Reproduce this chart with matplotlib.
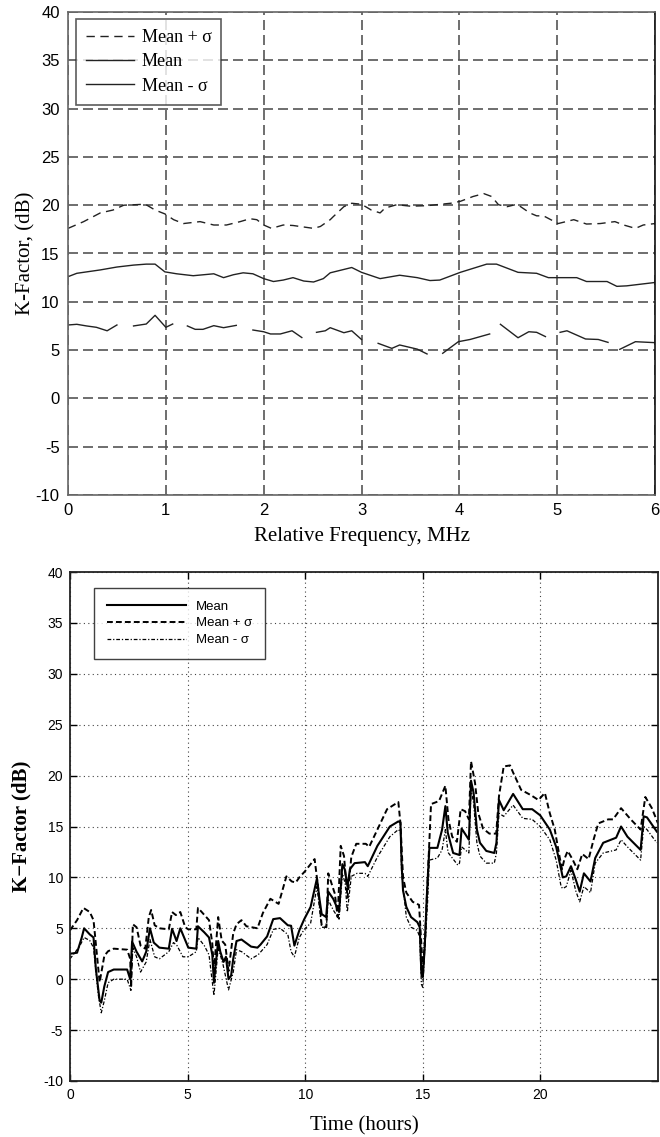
import numpy as np
import matplotlib
matplotlib.use("Agg")
import matplotlib.pyplot as plt

plt.rcParams["axes.unicode_minus"] = False

# ---- top panel: K-factor vs relative frequency ----
f_hi = [0, 0.16, 0.33, 0.46, 0.57, 0.79, 0.89, 0.99, 1.08, 1.18, 1.35, 1.49, 1.62, 1.76, 1.86,
        1.93, 2.0, 2.08, 2.2, 2.3, 2.51, 2.58, 2.68, 2.71, 2.82, 2.9, 3.0, 3.1, 3.19, 3.24, 3.36,
        3.5, 3.67, 3.91, 4.01, 4.14, 4.25, 4.33, 4.4, 4.49, 4.59, 4.72, 4.79, 4.86, 5.01, 5.17,
        5.3, 5.44, 5.59, 5.68, 5.8, 5.88, 6.0]
k_hi = [17.6, 18.3, 19.2, 19.5, 20.0, 20.1, 19.5, 19.1, 18.5, 18.1, 18.3, 17.95, 17.95, 18.3, 18.6,
        18.5, 17.95, 17.6, 17.95, 17.9, 17.6, 17.8, 18.5, 18.8, 19.85, 20.2, 20.1, 19.5, 19.2, 19.7, 20.05,
        19.9, 19.95, 20.2, 20.4, 20.9, 21.2, 20.9, 20.05, 19.85, 20.1, 19.2, 18.9, 18.9, 18.1, 18.5,
        18.05, 18.1, 18.3, 17.95, 17.6, 17.95, 18.1]

f_mean = [0, 0.09, 0.33, 0.5, 0.67, 0.8, 0.89, 0.99, 1.11, 1.28, 1.49, 1.59, 1.69, 1.79, 1.89, 2.0,
          2.1, 2.2, 2.3, 2.41, 2.51, 2.61, 2.68, 2.9, 3.0, 3.19, 3.39, 3.57, 3.7, 3.8, 4.01, 4.28,
          4.38, 4.6, 4.79, 4.91, 5.2, 5.3, 5.51, 5.61, 5.71, 6.0]
k_mean = [12.6, 12.95, 13.3, 13.6, 13.8, 13.9, 13.9, 13.1, 12.9, 12.7, 12.9, 12.5, 12.8, 13.0, 12.9, 12.4,
          12.1, 12.25, 12.5, 12.15, 12.05, 12.4, 13.0, 13.55, 13.05, 12.4, 12.75, 12.5, 12.2, 12.25, 13.05, 13.9,
          13.9, 13.05, 12.95, 12.5, 12.5, 12.1, 12.1, 11.6, 11.65, 12.0]

# gaps in the lower curve are kept as NaN
f_lo = [0, 0.09, 0.19, 0.29, 0.4, 0.5, np.nan,
        0.67, 0.8, 0.89, 1.0, 1.07, np.nan,
        1.22, 1.3, 1.38, 1.49, 1.59, 1.72, np.nan,
        1.89, 2.0, 2.07, 2.17, 2.29, 2.39, np.nan,
        2.54, 2.63, 2.68, 2.82, 2.9, 3.0, np.nan,
        3.17, 3.31, 3.39, 3.57, 3.67, np.nan,
        3.83, 3.99, 4.11, 4.31, np.nan,
        4.42, 4.6, 4.71, 4.79, 4.88, np.nan,
        5.03, 5.1, 5.29, 5.42, 5.52, np.nan,
        5.64, 5.8, 6.0]
k_lo = [7.6, 7.67, 7.5, 7.36, 7.0, 7.6, np.nan,
        7.5, 7.7, 8.6, 7.36, 7.7, np.nan,
        7.5, 7.15, 7.15, 7.53, 7.32, 7.56, np.nan,
        7.08, 6.9, 6.67, 6.67, 7.0, 6.3, np.nan,
        6.84, 7.0, 7.32, 6.8, 7.0, 6.1, np.nan,
        5.7, 5.18, 5.53, 5.1, 4.6, np.nan,
        4.67, 5.87, 6.1, 6.67, np.nan,
        7.67, 6.28, 6.9, 6.84, 6.4, np.nan,
        6.84, 7.0, 6.15, 6.1, 5.8, np.nan,
        5.08, 5.87, 5.77]

# ---- bottom panel: K-factor vs time ----
t_mean = [0.0, 0.3, 0.5, 0.6, 0.84, 1.0, 1.1, 1.26, 1.33, 1.46, 1.62, 1.86, 2.43, 2.56, 2.64, 2.83,
          3.07, 3.24, 3.4, 3.56, 3.8, 4.2, 4.34, 4.53, 4.69, 5.03, 5.37, 5.44, 5.71, 5.91, 6.05, 6.12,
          6.19, 6.3, 6.39, 6.53, 6.63, 6.74, 6.85, 6.94, 7.08, 7.29, 7.7, 7.97, 8.1, 8.38, 8.64, 8.93,
          9.26, 9.4, 9.54, 9.75, 9.96, 10.23, 10.5, 10.6, 10.7, 10.89, 10.98, 11.19, 11.44, 11.58,
          11.68, 11.8, 11.9, 12.1, 12.54, 12.66, 13.07, 13.6, 13.96, 14.05, 14.1, 14.16, 14.3, 14.5,
          14.77, 14.87, 14.94, 15.0, 15.08, 15.17, 15.28, 15.62, 15.82, 15.96, 16.06, 16.29, 16.56,
          16.65, 16.96, 17.05, 17.16, 17.3, 17.43, 17.7, 18.04, 18.13, 18.24, 18.44, 18.84, 19.25,
          19.65, 19.99, 20.4, 20.67, 20.88, 20.95, 21.1, 21.3, 21.5, 21.67, 21.85, 22.13, 22.33,
          22.67, 23.22, 23.43, 23.7, 24.26, 24.39, 24.53, 24.95]
kt_mean = [2.5, 2.6, 4.1, 5.0, 4.4, 4.1, 1.0, -2.1, -2.3, -0.7, 0.7, 0.95, 0.95, 0.0, 3.7, 2.7,
           1.75, 2.7, 5.0, 3.6, 3.1, 3.0, 4.95, 3.75, 5.0, 3.1, 3.0, 5.2, 4.6, 4.1, 2.4, -0.35,
           1.35, 3.75, 2.7, 1.7, 2.2, 0.0, 0.35, 2.0, 3.75, 3.9, 3.2, 3.1, 3.4, 4.2, 5.9, 6.0,
           5.3, 5.25, 3.3, 4.8, 5.9, 7.1, 9.9, 8.0, 6.4, 6.1, 8.6, 7.9, 6.6, 11.3,
           10.8, 9.1, 10.8, 11.4, 11.5, 11.1, 13.1, 15.0, 15.5, 15.4, 11.3, 8.7, 7.1, 6.1,
           5.6, 5.1, 0.5, 0.2, 3.1, 8.1, 12.9, 12.9, 14.7, 17.0, 14.4, 12.4, 12.2,
           14.8, 13.7, 19.5, 18.3, 14.7, 13.4, 12.6, 12.4, 13.4, 17.6, 16.6, 18.2, 16.7,
           16.7, 16.1, 14.7, 13.0, 10.8, 10.0, 10.1, 11.1, 9.8, 8.6, 10.4, 9.6, 11.9,
           13.4, 13.9, 15.0, 14.0, 12.7, 16.0, 15.9, 14.5]

t_hi = [0.0, 0.3, 0.57, 0.84, 1.0, 1.26, 1.46, 1.62, 1.86, 2.43, 2.56, 2.6, 2.67, 2.83, 3.0, 3.2,
        3.35, 3.45, 3.6, 3.8, 4.2, 4.34, 4.5, 4.69, 4.9, 5.03, 5.37, 5.44, 5.6, 5.91, 6.05, 6.12,
        6.3, 6.45, 6.6, 6.74, 6.94, 7.08, 7.29, 7.5, 7.97, 8.2, 8.52, 8.87, 9.2, 9.43, 9.6, 9.75,
        9.99, 10.4, 10.55, 10.7, 10.9, 10.98, 11.26, 11.38, 11.51, 11.65, 11.8, 11.96, 12.17,
        12.58, 12.72, 13.07, 13.48, 13.82, 13.96, 14.05, 14.16, 14.3, 14.57, 14.84, 14.95, 15.0,
        15.1, 15.21, 15.35, 15.69, 15.96, 16.09, 16.25, 16.45, 16.61, 16.8, 16.96, 17.05, 17.22,
        17.36, 17.56, 17.83, 18.12, 18.24, 18.44, 18.71, 18.84, 19.18, 19.58, 19.92, 20.19, 20.4,
        20.61, 20.81, 20.92, 21.02, 21.16, 21.36, 21.57, 21.78, 22.05, 22.26, 22.46, 22.88, 23.09,
        23.43, 23.84, 24.26, 24.46, 24.74, 25.0]
kt_hi = [4.8, 5.8, 7.0, 6.6, 5.8, -0.3, 2.3, 2.75, 3.0, 2.9, 2.0, -0.8, 5.4, 5.1, 3.3, 3.0,
         6.1, 6.8, 5.3, 5.0, 4.9, 6.6, 6.3, 6.6, 5.1, 4.9, 4.9, 7.0, 6.6, 5.8, 3.5, 0.8,
         6.1, 3.8, 3.4, 0.8, 4.5, 5.4, 5.8, 5.2, 5.0, 6.5, 7.9, 7.4, 10.1, 9.6, 9.5, 10.0,
         10.6, 11.8, 9.0, 5.3, 5.1, 10.4, 8.4, 6.1, 13.1, 12.1, 8.0, 12.0, 13.3,
         13.3, 13.0, 14.7, 16.7, 17.2, 17.4, 15.3, 10.0, 8.5, 7.6, 7.3, 3.0, 1.0,
         4.0, 10.0, 17.2, 17.5, 19.0, 15.7, 14.0, 13.5, 16.7, 16.5, 15.7, 21.4, 19.3,
         16.3, 14.8, 14.3, 14.3, 18.0, 20.9, 21.0, 20.3, 18.6, 18.1, 17.6, 18.3, 16.3,
         14.7, 12.1, 10.8, 11.8, 12.6, 11.8, 10.8, 12.3, 11.8, 13.7, 15.3, 15.7, 15.7,
         16.8, 15.7, 14.7, 17.9, 16.8, 15.3]

t_lo = [0.0, 0.4, 0.6, 0.84, 1.0, 1.2, 1.33, 1.46, 1.62, 1.86, 2.43, 2.59, 2.67, 2.83, 3.0, 3.24,
        3.4, 3.6, 3.8, 4.2, 4.4, 4.55, 4.8, 5.03, 5.37, 5.44, 5.71, 5.91, 6.12, 6.3, 6.5, 6.74,
        6.94, 7.08, 7.3, 7.7, 8.0, 8.38, 8.65, 8.93, 9.26, 9.4, 9.54, 9.75, 9.96, 10.23, 10.5,
        10.7, 10.9, 10.98, 11.19, 11.44, 11.58, 11.7, 11.79, 11.96, 12.2, 12.54, 12.66, 13.07,
        13.6, 13.96, 14.05, 14.1, 14.3, 14.5, 14.77, 14.87, 14.94, 15.0, 15.08, 15.2, 15.28,
        15.62, 15.82, 15.96, 16.06, 16.09, 16.49, 16.56, 16.65, 16.96, 17.05, 17.16, 17.3, 17.43,
        17.7, 18.04, 18.13, 18.24, 18.44, 18.84, 19.25, 19.65, 19.99, 20.4, 20.67, 20.88, 20.95,
        21.1, 21.3, 21.5, 21.67, 21.85, 22.13, 22.33, 22.67, 23.22, 23.43, 23.7, 24.26, 24.39,
        24.53, 24.95]
kt_lo = [2.0, 3.2, 4.1, 3.8, 3.1, -1.5, -3.3, -2.1, -0.35, 0.0, 0.0, -1.1, 3.1, 2.2, 0.7, 1.7,
         3.9, 2.2, 2.0, 2.7, 3.6, 3.3, 2.2, 2.2, 2.7, 4.1, 3.3, 2.4, -1.6, 3.1, 1.5, -1.05,
         0.7, 2.9, 2.7, 2.0, 2.4, 3.4, 4.9, 5.0, 4.4, 2.7, 2.2, 4.1, 4.9, 5.5, 9.1,
         5.1, 5.1, 7.8, 6.8, 5.9, 10.4, 9.4, 6.6, 10.1, 10.4, 10.4, 10.1, 12.0,
         14.0, 14.7, 14.5, 10.4, 6.1, 5.1, 4.8, 4.1, -0.5, -0.8, 2.8, 7.4, 11.7,
         11.9, 12.7, 14.7, 12.7, 12.4, 11.2, 11.4, 13.0, 12.4, 18.6, 17.3, 13.4, 12.1,
         11.4, 11.4, 12.4, 16.3, 16.0, 17.1, 15.8, 15.7, 15.0, 13.7, 11.7, 9.1, 8.9,
         9.1, 10.7, 8.7, 7.6, 9.1, 8.5, 11.4, 12.4, 12.7, 13.7, 13.0, 11.7, 15.0,
         14.7, 13.4]

serif = "Liberation Serif"
sans = "Liberation Sans"

fig = plt.figure(figsize=(6.6, 11.37), dpi=100)

# top panel
ax1 = fig.add_axes([68 / 660, 1 - 495 / 1137, 587 / 660, 483 / 1137])
ax1.plot(f_hi, k_hi, color="#222222", lw=1.0, dashes=(6, 4), label="Mean + σ")
ax1.plot(f_mean, k_mean, color="#222222", lw=1.0, label="Mean")
ax1.plot(f_lo, k_lo, color="#222222", lw=1.0, label="Mean - σ")
ax1.set_xlim(0, 6)
ax1.set_ylim(-10, 40)
ax1.set_xticks(range(0, 7))
ax1.set_yticks(range(-10, 41, 5))
ax1.grid(True, color="#555555", lw=1.2, dashes=(6, 3))
ax1.tick_params(direction="in", length=0, pad=6, labelsize=12)
for lab in ax1.get_xticklabels() + ax1.get_yticklabels():
    lab.set_family(sans)
for s in ax1.spines.values():
    s.set_color("#666666")
    s.set_linewidth(1.2)
ax1.spines["right"].set_color("#111111")
ax1.set_xlabel("Relative Frequency, MHz", family=serif, fontsize=15, labelpad=6)
ax1.set_ylabel("K-Factor, (dB)", family=serif, fontsize=15, labelpad=0)
leg1 = ax1.legend(loc="upper left", bbox_to_anchor=(0.013, 0.985), prop={"family": serif, "size": 13},
                  frameon=True, fancybox=False, handlelength=2.7, handletextpad=0.4,
                  borderpad=0.55, labelspacing=0.4, borderaxespad=0)
leg1.get_frame().set_edgecolor("#333333")
leg1.get_frame().set_linewidth(1.2)

# bottom panel
ax2 = fig.add_axes([70 / 660, 1 - 1081 / 1137, 588 / 660, 509 / 1137])
ax2.plot(t_mean, kt_mean, color="black", lw=1.5, label="Mean")
ax2.plot(t_hi, kt_hi, color="black", lw=1.4, dashes=(3, 1.6), label="Mean + σ")
ax2.plot(t_lo, kt_lo, color="black", lw=0.9, dashes=(3, 1.5, 1, 1.5), label="Mean - σ")
ax2.set_xlim(0, 25)
ax2.set_ylim(-10, 40)
ax2.set_xticks([0, 5, 10, 15, 20])
ax2.set_yticks(range(-10, 41, 5))
ax2.grid(True, color="#444444", lw=0.8, linestyle=(0, (1, 3)))
ax2.tick_params(direction="in", length=5, width=1, top=True, right=True, pad=5, labelsize=10)
for lab in ax2.get_xticklabels() + ax2.get_yticklabels():
    lab.set_family(sans)
for s in ax2.spines.values():
    s.set_color("#222222")
    s.set_linewidth(1.3)
ax2.set_xlabel("Time (hours)", family=serif, fontsize=15, labelpad=10)
ax2.set_ylabel("K−Factor (dB)", family=serif, fontsize=15, fontweight="bold", labelpad=8)
leg2 = ax2.legend(loc="upper left", bbox_to_anchor=(0.041, 0.969), prop={"family": sans, "size": 9.5},
                  frameon=True, fancybox=False, handlelength=6.0, handletextpad=0.8,
                  borderpad=0.95, labelspacing=0.35, borderaxespad=0)
leg2.get_frame().set_edgecolor("#111111")
leg2.get_frame().set_linewidth(1.0)

fig.savefig("out.png", dpi=100)
